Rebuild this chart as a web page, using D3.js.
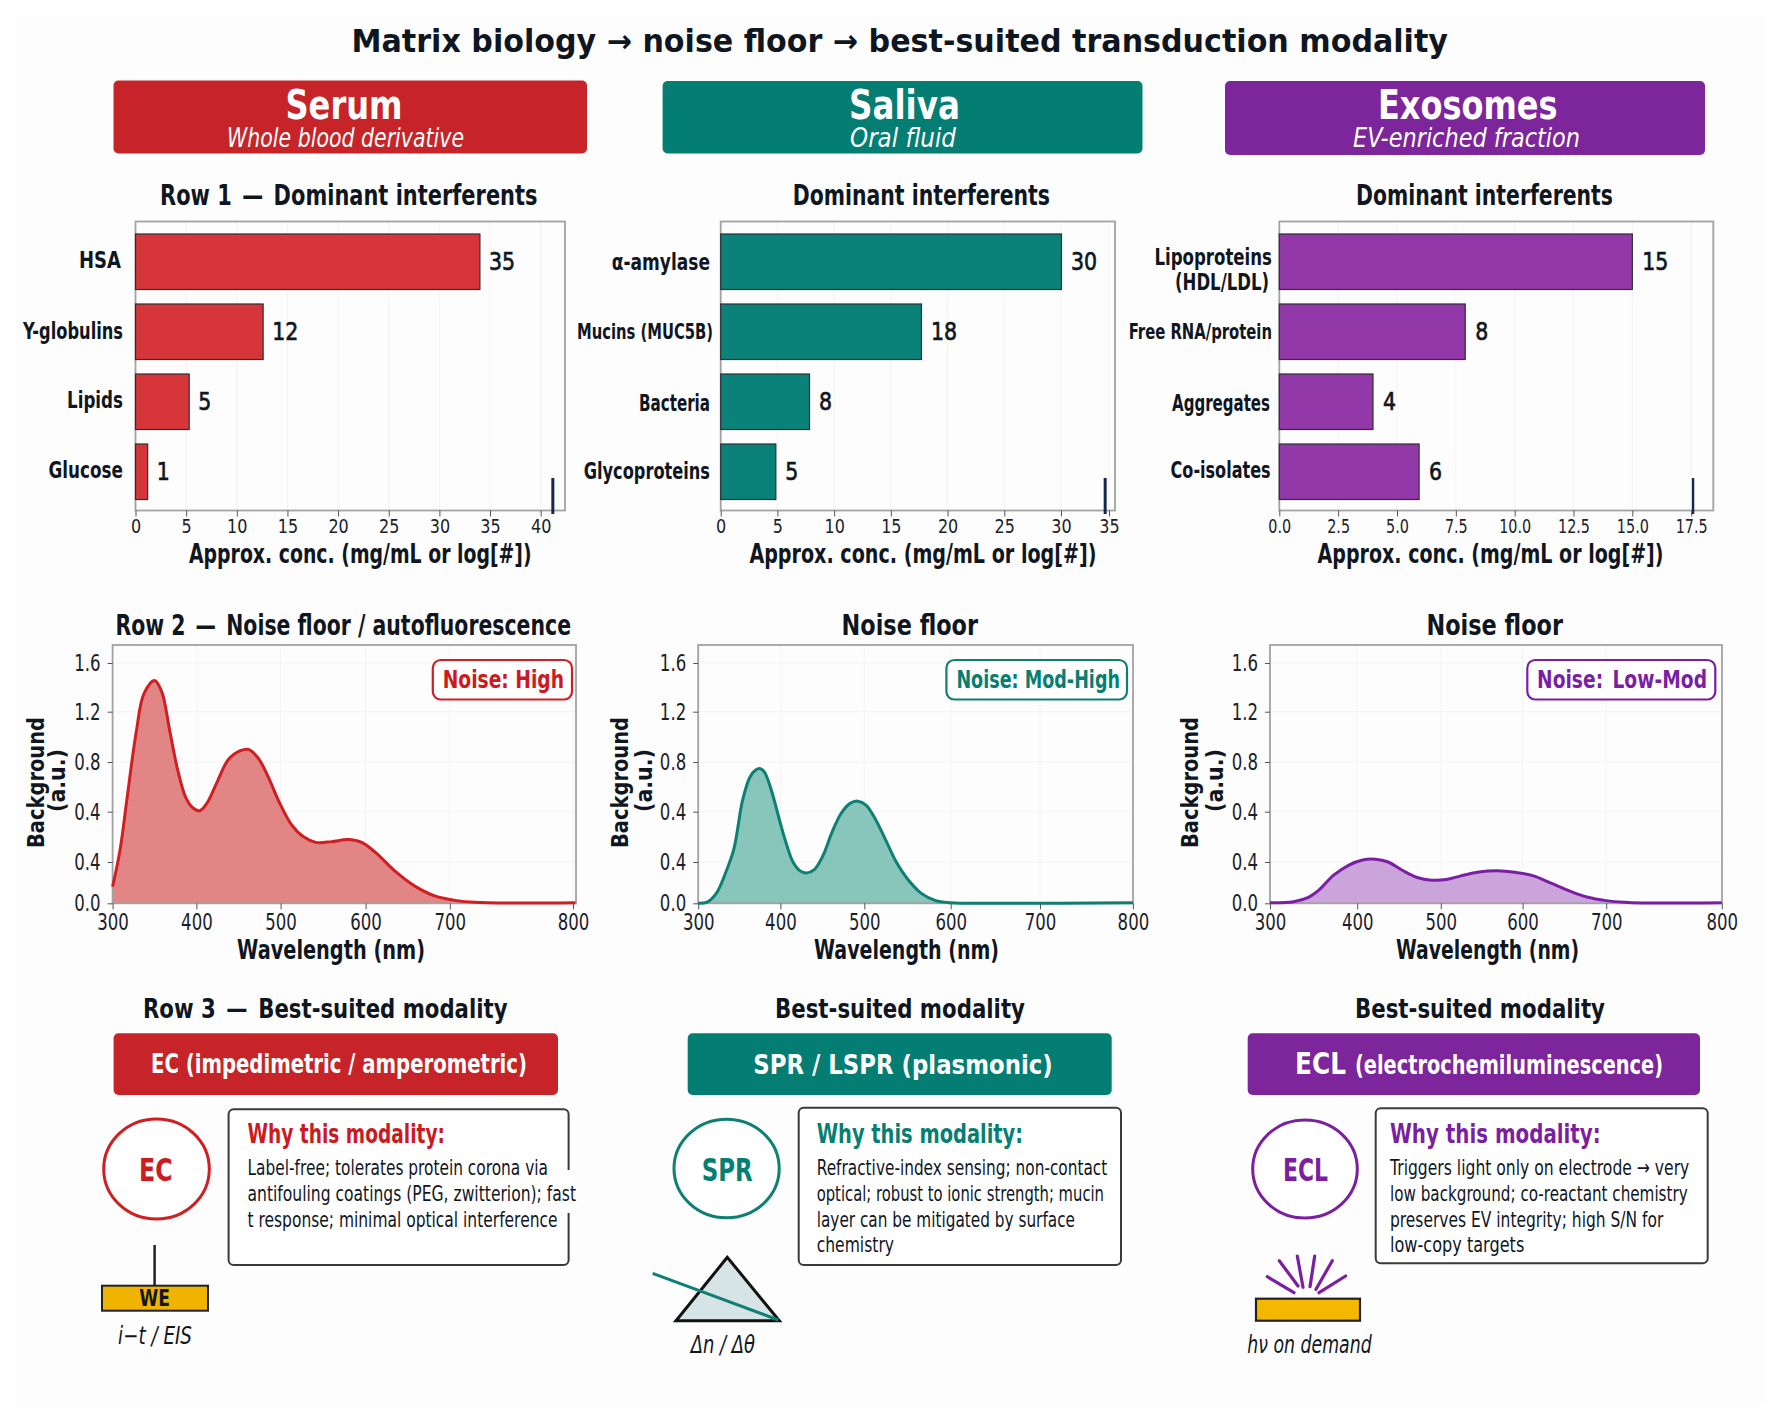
<!DOCTYPE html>
<html><head><meta charset="utf-8">
<script src="https://cdn.jsdelivr.net/npm/d3@7"></script>
<style>html,body{margin:0;padding:0;background:#fff}svg{display:block}text{font-family:"DejaVu Sans",sans-serif;fill:#10161f}</style>
</head><body><svg id="c" width="1781" height="1419"></svg>
<script>
// ---------- data ----------
const serumCategories=["HSA","Y-globulins","Lipids","Glucose"];
const serumBarLengths=[34,12.6,5.3,1.2];
const serumBarLabels=["35","12","5","1"];
const salivaCategories=["α-amylase","Mucins (MUC5B)","Bacteria","Glycoproteins"];
const salivaBarLengths=[30.05,17.7,7.83,4.86];
const salivaBarLabels=["30","18","8","5"];
const exosomeCategories=["Lipoproteins (HDL/LDL)","Free RNA/protein","Aggregates","Co-isolates"];
const exosomeBarLengths=[15,7.9,3.98,5.94];
const exosomeBarLabels=["15","8","4","6"];
const serumBarTicks=[0,5,10,15,20,25,30,35,40];
const salivaBarTicks=[0,5,10,15,20,25,30,35];
const exosomeBarTicks=[0,2.5,5,7.5,10,12.5,15,17.5];
const waveTicks=[300,400,500,600,700,800];
const bgTicks=[0,0.2,0.4,0.8,1.2,1.6];
const bgTickLabels=["0.0","0.4","0.4","0.8","1.2","1.6"];
const serumWave=[300,309,317,328,337.5,350,358.6,368,377.6,387,396,404,412.5,424,438,452.4,461.8,473.5,485,499,513,527,541.5,560,579,595.4,612,635,659,682,705.6,720,752,802];
const serumBg=[0.08,0.25,0.495,1.03,1.35,1.457,1.365,1.055,0.738,0.52,0.43,0.408,0.468,0.63,0.82,0.89,0.9,0.83,0.684,0.468,0.348,0.3,0.278,0.281,0.289,0.278,0.237,0.156,0.082,0.036,0.013,0.005,0.001,0.003];
const salivaWave=[300,311,322,333,343.5,354,363,369.6,374.8,380.4,389,397.8,406.4,415,423.4,431,440.4,451,461.7,472.3,483,492.3,502,512.4,524.8,537,549.6,566,582.6,599,650,800];
const salivaBg=[0,0.006,0.048,0.144,0.253,0.493,0.68,0.733,0.747,0.72,0.573,0.38,0.28,0.2,0.157,0.147,0.163,0.227,0.32,0.393,0.467,0.485,0.453,0.373,0.287,0.2,0.12,0.048,0.013,0.003,0,0.003];
const exosomeWave=[300,327,344,356,373,390,406.5,421.7,437,454,471.7,489,506.7,524.4,546.7,569,591,613,634.8,656.5,678,700,715.7,731.4,800];
const exosomeBg=[0.003,0.008,0.029,0.064,0.136,0.184,0.208,0.211,0.2,0.16,0.125,0.112,0.115,0.133,0.152,0.158,0.15,0.133,0.096,0.059,0.029,0.013,0.005,0.002,0.003];
const serumWhy=["Label-free; tolerates protein corona via","antifouling coatings (PEG, zwitterion); fast","t response; minimal optical interference"];
const salivaWhy=["Refractive-index sensing; non-contact","optical; robust to ionic strength; mucin","layer can be mitigated by surface","chemistry"];
const exosomeWhy=["Triggers light only on electrode → very","low background; co-reactant chemistry","preserves EV integrity; high S/N for","low-copy targets"];

// ---------- styling and layout ----------
const RED={head:"#c62428",bar:"#d63639",line:"#cf1f23",area:"#e28585",text:"#cc1a20"};
const TEAL={head:"#047d72",bar:"#0b8279",line:"#0e7f73",area:"#88c5bb",text:"#067f72"};
const PURP={head:"#7d259b",bar:"#9238a8",line:"#7b1fa2",area:"#cba4dc",text:"#7b1fa2"};
const svg=d3.select("#c");
svg.append("rect").attr("width",1781).attr("height",1419).attr("fill","#fff");
svg.append("rect").attr("x",15).attr("y",15).attr("width",1750).attr("height",1390).attr("fill","#fdfdfd");

// text fitted between x0 and x1 (the reference lettering is horizontally condensed)
function T(str,x0,x1,y,size,o={}){
  const t=svg.append("text").text(str).attr("x",x0).attr("y",y)
    .attr("font-size",size).attr("textLength",x1-x0).attr("lengthAdjust","spacingAndGlyphs")
    .attr("font-weight",o.weight||"normal").attr("font-style",o.italic?"italic":"normal");
  t.style("fill",o.fill||"#10161f");
  if(o.stroke) t.style("stroke",o.fill||"#10161f").style("stroke-width",o.stroke);
  return t;
}
function TR(str,x,yBottom,yTop,size,o={}){
  const g=svg.append("g").attr("transform",`translate(${x},${yBottom}) rotate(-90)`);
  g.append("text").text(str).attr("font-size",size).attr("font-weight",o.weight||"bold")
   .attr("textLength",yBottom-yTop).attr("lengthAdjust","spacingAndGlyphs");
}
function condense(sel,f){sel.each(function(){const L=this.getComputedTextLength();d3.select(this).attr("textLength",L*f).attr("lengthAdjust","spacingAndGlyphs");});}

T("Matrix biology → noise floor → best-suited transduction modality",351.5,1448,52,31.5,{weight:"bold"});

function header(c,box,name,nameX,sub,subX){
  svg.append("rect").attr("x",box[0]).attr("y",box[1]).attr("width",box[2]-box[0]).attr("height",box[3]-box[1]).attr("rx",5).attr("fill",c.head);
  T(name,nameX[0],nameX[1],119,41,{weight:"bold",fill:"#fff"});
  T(sub,subX[0],subX[1],146.5,27,{italic:true,fill:"#fff"});
}
header(RED,[113.5,80.5,587,153.5],"Serum",[285.5,402.5],"Whole blood derivative",[227,464]);
header(TEAL,[662.6,81,1142.5,153.5],"Saliva",[849,960],"Oral fluid",[850,956]);
header(PURP,[1225,81,1705,155],"Exosomes",[1378,1557.5],"EV-enriched fraction",[1353,1580]);

function barPanel(p){
  const x=d3.scaleLinear().domain(p.xDomain).range(p.xRange);
  const y=d3.scaleBand().domain(p.cats).range([219.5,514]).padding(0.207);
  const [L,R,Tp,B]=[p.xRange[0],p.xRange[p.xRange.length-1],221.5,510.5];
  T(p.title,p.titleX[0],p.titleX[1],204.5,28.5,{weight:"bold"});
  svg.append("g").selectAll("line").data(p.ticks).join("line").attr("x1",d=>x(d)).attr("x2",d=>x(d)).attr("y1",Tp).attr("y2",B).attr("stroke","#f3f3f3");
  svg.append("rect").attr("x",L).attr("y",Tp).attr("width",R-L).attr("height",B-Tp).attr("fill","none").attr("stroke","#a2a2a2").attr("stroke-width",1.8);
  svg.append("g").selectAll("rect").data(p.vals).join("rect")
    .attr("x",x(0)).attr("y",(d,i)=>y(p.cats[i])).attr("width",d=>x(d)-x(0)).attr("height",y.bandwidth())
    .attr("fill",p.c.bar).attr("stroke","#2c2f33").attr("stroke-width",1.2);
  const ax=svg.append("g").attr("transform",`translate(0,${B})`).call(d3.axisBottom(x).tickValues(p.ticks).tickSize(6).tickPadding(2.5).tickFormat(d=>d3.format(p.fmt)(d)));
  ax.select(".domain").remove();
  ax.selectAll("line").attr("stroke","#555");
  ax.selectAll("text").attr("font-size",20).style("fill","#1b2129");
  condense(ax.selectAll("text"),p.tickFit);
  p.catBoxes.forEach(b=>T(b[0],b[1],b[2],b[3],b[4],{weight:"bold"}));
  svg.append("g").selectAll("text").data(p.vals).join("text")
    .text((d,i)=>p.labels[i]).attr("x",d=>x(d)+p.gap).attr("y",(d,i)=>y(p.cats[i])+y.bandwidth()/2+8.5)
    .attr("font-size",25).style("stroke","#10161f").style("stroke-width",0.7).call(condense,0.82);
  svg.append("line").attr("x1",x(p.mark)).attr("x2",x(p.mark)).attr("y1",478).attr("y2",514).attr("stroke","#14284b").attr("stroke-width",p.markW);
  T("Approx. conc. (mg/mL or log[#])",p.axX[0],p.axX[1],562.5,26,{weight:"bold"});
}
barPanel({c:RED,cats:serumCategories,vals:serumBarLengths,labels:serumBarLabels,ticks:serumBarTicks,fmt:"d",
  xDomain:[0,42.4],xRange:[135.5,565],title:"Row 1\u2002—\u2002Dominant interferents",titleX:[160,537.5],gap:9,mark:41.2,markW:3,tickFit:0.8,axX:[189,531.6],
  catBoxes:[["HSA",79,121,268,23.5],["Y-globulins",23,123,338.7,23.5],["Lipids",67,123,407.6,23.5],["Glucose",48.5,123,477.6,23.5]]});
barPanel({c:TEAL,cats:salivaCategories,vals:salivaBarLengths,labels:salivaBarLabels,ticks:salivaBarTicks,fmt:"d",
  xDomain:[0,30,35,35.62],xRange:[720.7,1061,1109,1115],title:"Dominant interferents",titleX:[792.7,1050],gap:9.5,mark:34.6,markW:3,tickFit:0.8,axX:[749.4,1096.5],
  catBoxes:[["α-amylase",611.7,710,270,23.5],["Mucins (MUC5B)",577,713,338.7,21],["Bacteria",639,710,410.7,23.5],["Glycoproteins",583.7,710,478.7,23.5]]});
barPanel({c:PURP,cats:exosomeCategories,vals:exosomeBarLengths,labels:exosomeBarLabels,ticks:exosomeBarTicks,fmt:".1f",
  xDomain:[0,18.44],xRange:[1279.3,1713.3],title:"Dominant interferents",titleX:[1356,1613],gap:10,mark:17.58,markW:2.4,tickFit:0.72,axX:[1317.6,1663.5],
  catBoxes:[["Lipoproteins",1154.4,1272,265,23],["(HDL/LDL)",1175,1269,290,23],["Free RNA/protein",1128.7,1272,339,22],["Aggregates",1172,1270,410.7,23],["Co-isolates",1170.6,1270.6,478,23]]});

function linePanel(p){
  const x=d3.scaleLinear().domain([300,400,500,600,700,800,p.xEnd[0]]).range([...p.xRange,p.xEnd[1]]);
  const y=d3.scaleLinear().domain([0,0.2,0.4,0.8,1.2,1.6,1.744]).range([903.3,862,811.7,762,711.7,663,645]);
  const [L,R,Tp,B]=[p.xRange[0],p.xEnd[1],645,903.3];
  T(p.title,p.titleX[0],p.titleX[1],634.5,28.5,{weight:"bold"});
  const grid=svg.append("g").attr("stroke","#f3f3f3");
  grid.selectAll(".v").data(waveTicks).join("line").attr("class","v").attr("x1",d=>x(d)).attr("x2",d=>x(d)).attr("y1",Tp).attr("y2",B);
  grid.selectAll(".h").data(bgTicks).join("line").attr("class","h").attr("y1",d=>y(d)).attr("y2",d=>y(d)).attr("x1",L).attr("x2",R);
  const pts=p.wave.map((w,i)=>[w,p.bg[i]]);
  const curve=d3.curveCatmullRom.alpha(0.5);
  svg.append("path").datum(pts).attr("fill",p.c.area).attr("d",d3.area().x(d=>x(d[0])).y0(y(0)).y1(d=>y(d[1])).curve(curve));
  svg.append("rect").attr("x",L).attr("y",Tp).attr("width",R-L).attr("height",B-Tp).attr("fill","none").attr("stroke","#a2a2a2").attr("stroke-width",1.8);
  svg.append("path").datum(pts).attr("fill","none").attr("stroke",p.c.line).attr("stroke-width",3).attr("d",d3.line().x(d=>x(d[0])).y(d=>y(d[1])).curve(curve));
  const ax=svg.append("g").attr("transform",`translate(0,${B})`).call(d3.axisBottom(x).tickValues(waveTicks).tickSize(6).tickPadding(4.7).tickFormat(d3.format("d")));
  ax.select(".domain").remove();ax.selectAll("line").attr("stroke","#555");
  ax.selectAll("text").attr("font-size",23).style("fill","#1b2129");condense(ax.selectAll("text"),0.72);
  const ay=svg.append("g").attr("transform",`translate(${L},0)`).call(d3.axisLeft(y).tickValues(bgTicks).tickSize(5).tickPadding(7).tickFormat((d,i)=>bgTickLabels[i]));
  ay.select(".domain").remove();ay.selectAll("line").attr("stroke","#555");
  ay.selectAll("text").attr("font-size",23).style("fill","#1b2129");condense(ay.selectAll("text"),0.72);
  TR("Background",p.yLab[0],848,717,23);
  TR("(a.u.)",p.yLab[1],812,749,23);
  T("Wavelength (nm)",p.axX[0],p.axX[1],958.5,26,{weight:"bold"});
  svg.append("rect").attr("x",p.badge[0]).attr("y",660).attr("width",p.badge[1]-p.badge[0]).attr("height",39.5).attr("rx",8).attr("fill","#fff").attr("stroke",p.c.line).attr("stroke-width",2.2);
  T(p.noise,p.badgeText[0],p.badgeText[1],687.5,25,{weight:"bold",fill:p.c.text});
}
linePanel({c:RED,wave:serumWave,bg:serumBg,xRange:[112.6,196.4,280.6,365.6,449.8,573],xEnd:[802.6,576],title:"Row 2\u2002—\u2002Noise floor / autofluorescence",titleX:[115.4,571],yLab:[44,65],axX:[237,425],badge:[432.8,572],badgeText:[442.7,564],noise:"Noise: High"});
linePanel({c:TEAL,wave:salivaWave,bg:salivaBg,xRange:[698.2,780.4,864.3,950.7,1040,1132.9],xEnd:[800.01,1133],title:"Noise floor",titleX:[841.6,978],yLab:[628,652],axX:[814,999],badge:[946.4,1127],badgeText:[956.4,1120],noise:"Noise: Mod-High"});
linePanel({c:PURP,wave:exosomeWave,bg:exosomeBg,xRange:[1270,1357.2,1440.8,1522.6,1606.2,1721.8],xEnd:[800.01,1722],title:"Noise floor",titleX:[1426.5,1563],yLab:[1198,1222.7],axX:[1396,1579],badge:[1527.3,1715.3],badgeText:[1537,1707],noise:"Noise:\u2002Low-Mod"});

function modality(p){
  T(p.title,p.titleX[0],p.titleX[1],1018,26.5,{weight:"bold"});
  svg.append("rect").attr("x",p.bar[0]).attr("y",1033.3).attr("width",p.bar[1]-p.bar[0]).attr("height",61.7).attr("rx",5).attr("fill",p.c.head);
  p.barText.forEach(b=>T(b[0],b[1],b[2],b[3],b[4],{weight:"bold",fill:"#fff"}));
  svg.append("ellipse").attr("cx",p.circ[0]).attr("cy",p.circ[1]).attr("rx",p.circ[2]).attr("ry",p.circ[3]).attr("fill","#fff").attr("stroke",p.c.line).attr("stroke-width",3);
  T(p.code,p.codeX[0],p.codeX[1],1180.5,32,{weight:"bold",fill:p.c.text});
  svg.append("rect").attr("x",p.box[0]).attr("y",p.box[1]).attr("width",p.box[2]-p.box[0]).attr("height",p.box[3]-p.box[1]).attr("rx",5).attr("fill","#fff").attr("stroke","#3a3a3a").attr("stroke-width",2);
  if(p.gap) svg.append("rect").attr("x",p.gap[0]).attr("y",p.gap[1]).attr("width",p.gap[2]).attr("height",p.gap[3]).attr("fill","#fff");
  T("Why this modality:",p.whyX[0],p.whyX[1],1142.7,26,{weight:"bold",fill:p.c.text});
  p.lines.forEach((s,i)=>T(s,p.whyX[0],p.lineEnds[i],[1175,1201,1226.7,1251.7][i],21.5));
  T(p.caption,p.capX[0],p.capX[1],p.capY,24,{italic:true});
}
modality({c:RED,title:"Row 3\u2002—\u2002Best-suited modality",titleX:[143,507.5],bar:[113.6,558],barText:[["EC (impedimetric / amperometric)",151,527,1072.7,27]],
  circ:[156.5,1169,52.8,50],code:"EC",codeX:[139,172.5],box:[228.6,1109.3,568.6,1265],gap:[565,1170,8,43],whyX:[247.5,445],lines:serumWhy,lineEnds:[548,576,557.5],caption:"i−t / EIS",capX:[118,192],capY:1344});
modality({c:TEAL,title:"Best-suited modality",titleX:[775,1025],bar:[687.7,1111.7],barText:[["SPR / LSPR (plasmonic)",753.3,1052.7,1073.5,27]],
  circ:[726.6,1168.5,52.6,49.2],code:"SPR",codeX:[701.7,752.7],box:[798.7,1107.7,1121,1265],whyX:[816.7,1023],lines:salivaWhy,lineEnds:[1107.3,1104,1075,894],caption:"Δn / Δθ",capX:[690.7,755],capY:1353.3});
modality({c:PURP,title:"Best-suited modality",titleX:[1355,1605],bar:[1247.7,1700],barText:[["ECL",1295,1346,1074,31],["(electrochemiluminescence)",1355,1663,1073.5,26]],
  circ:[1305,1169,52.3,49],code:"ECL",codeX:[1283,1328],box:[1375.7,1108.3,1707.7,1263.3],whyX:[1390,1600.7],lines:exosomeWhy,lineEnds:[1689.3,1687.7,1663.3,1524.3],caption:"hν on demand",capX:[1247.3,1371.7],capY:1353.3});

// icons
svg.append("line").attr("x1",154.6).attr("x2",154.6).attr("y1",1245).attr("y2",1286).attr("stroke","#222").attr("stroke-width",2.5);
svg.append("rect").attr("x",102).attr("y",1285.7).attr("width",106).attr("height",25).attr("fill","#f0b400").attr("stroke","#222").attr("stroke-width",2);
T("WE",139.3,170,1306,23,{weight:"bold"});
svg.append("path").attr("d",d3.line()([[727.3,1257.3],[676,1320.7],[779.3,1320.7]])+"Z").attr("fill","#d6e4e6").attr("stroke","#111").attr("stroke-width",3);
svg.append("line").attr("x1",652.7).attr("y1",1273.3).attr("x2",778.3).attr("y2",1320).attr("stroke",TEAL.line).attr("stroke-width",3);
svg.append("rect").attr("x",1256).attr("y",1298.7).attr("width",104).attr("height",22).attr("fill","#f5b800").attr("stroke","#222").attr("stroke-width",2.2);
const rays=[[1267.3,1276.7,1294,1292.7],[1279.3,1260.7,1298,1286],[1297.3,1256,1303,1287.3],[1314.7,1256,1310,1286.7],[1332.3,1260.7,1316,1289.3],[1345.7,1276,1319,1292.7]];
svg.append("g").selectAll("line").data(rays).join("line").attr("x1",d=>d[0]).attr("y1",d=>d[1]).attr("x2",d=>d[2]).attr("y2",d=>d[3]).attr("stroke",PURP.line).attr("stroke-width",3.2).attr("stroke-linecap","round");
</script></body></html>
